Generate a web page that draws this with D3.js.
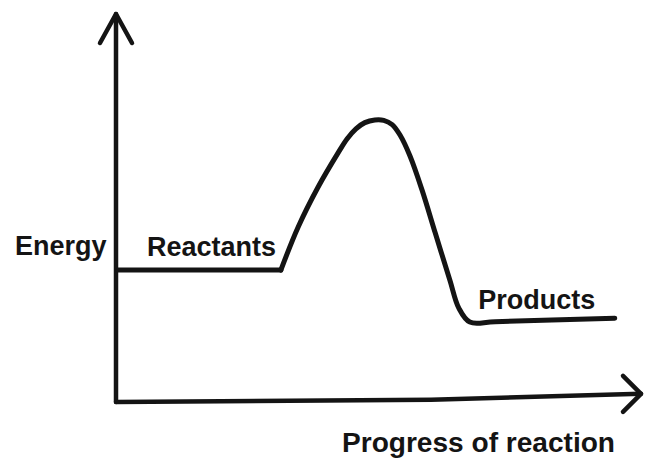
<!DOCTYPE html>
<html>
<head>
<meta charset="utf-8">
<script src="https://cdn.jsdelivr.net/npm/d3@7"></script>
<style>
  html, body { margin: 0; padding: 0; background: #ffffff; }
  svg { display: block; }
  text { font-family: "Liberation Sans", Arial, sans-serif; font-weight: bold; fill: #141414; }
</style>
</head>
<body>
<script>
// Reaction progress (0-100) and energy (0-100, arbitrary units)
const progress = [0.4, 31.4, 34.7, 38.5, 42.3, 44.0, 45.7, 47.4, 49.3, 51.0, 52.6, 54.1, 56.0, 58.3, 60.8, 63.6, 65.3, 67.4, 72.2, 95.0];
const energy   = [34.0, 34.0, 45.1, 55.4, 64.2, 67.8, 70.4, 72.0, 72.7, 72.6, 71.5, 68.8, 63.4, 54.6, 43.6, 31.4, 24.2, 20.6, 20.7, 21.6];
const labels = [
  {text: "Reactants", p: 5.9, e: 37.6},
  {text: "Products", p: 69.0, e: 24.0}
];
const yTitle = "Energy";
const xTitle = "Progress of reaction";

const W = 645, H = 459;
const svg = d3.select("body").append("svg").attr("width", W).attr("height", H);

const x = d3.scaleLinear().domain([0, 100]).range([116, 641]);
const y = d3.scaleLinear().domain([0, 100]).range([402, 14]);

const ink = "#141414";

// Axes with arrowheads
const axes = svg.append("g").attr("fill", "none").attr("stroke", ink)
  .attr("stroke-width", 4.5).attr("stroke-linecap", "round").attr("stroke-linejoin", "round");
// y axis
axes.append("path").attr("d", d3.line()([[x(0), y(0)], [x(0), y(100)]]));
axes.append("path").attr("d", d3.line()([[x(0) - 16, y(100) + 29], [x(0), y(100)], [x(0) + 16, y(100) + 29]]));
// x axis (slightly tilted like the drawing)
axes.append("path").attr("d", d3.line()([[x(0), y(0)], [x(60), y(0.6)], [x(100), y(2.1)]]));
axes.append("path").attr("d", d3.line()([[x(100) - 18, y(2.1) - 18], [x(100), y(2.1)], [x(100) - 18, y(2.1) + 18]]));

// Energy curve: flat reactant level (straight) + smooth hump and product level
const pts = progress.map((p, i) => [p, energy[i]]);
const straight = d3.line().x(d => x(d[0])).y(d => y(d[1]));
const smooth = d3.line().x(d => x(d[0])).y(d => y(d[1])).curve(d3.curveCatmullRom.alpha(0.5));
const g = svg.append("g").attr("fill", "none").attr("stroke", ink).attr("stroke-width", 5)
  .attr("stroke-linejoin", "round").attr("stroke-linecap", "round");
g.append("path").attr("d", straight(pts.slice(0, 2)));
g.append("path").attr("d", smooth(pts.slice(1)));

// Labels
svg.selectAll("text.lbl").data(labels).enter().append("text")
  .attr("class", "lbl")
  .attr("x", d => x(d.p)).attr("y", d => y(d.e))
  .attr("font-size", 27)
  .text(d => d.text);

svg.append("text").attr("x", 15).attr("y", 255).attr("font-size", 27).text(yTitle);
svg.append("text").attr("x", 342).attr("y", 452).attr("font-size", 27)
  .attr("textLength", 273).attr("lengthAdjust", "spacingAndGlyphs").text(xTitle);
</script>
</body>
</html>
